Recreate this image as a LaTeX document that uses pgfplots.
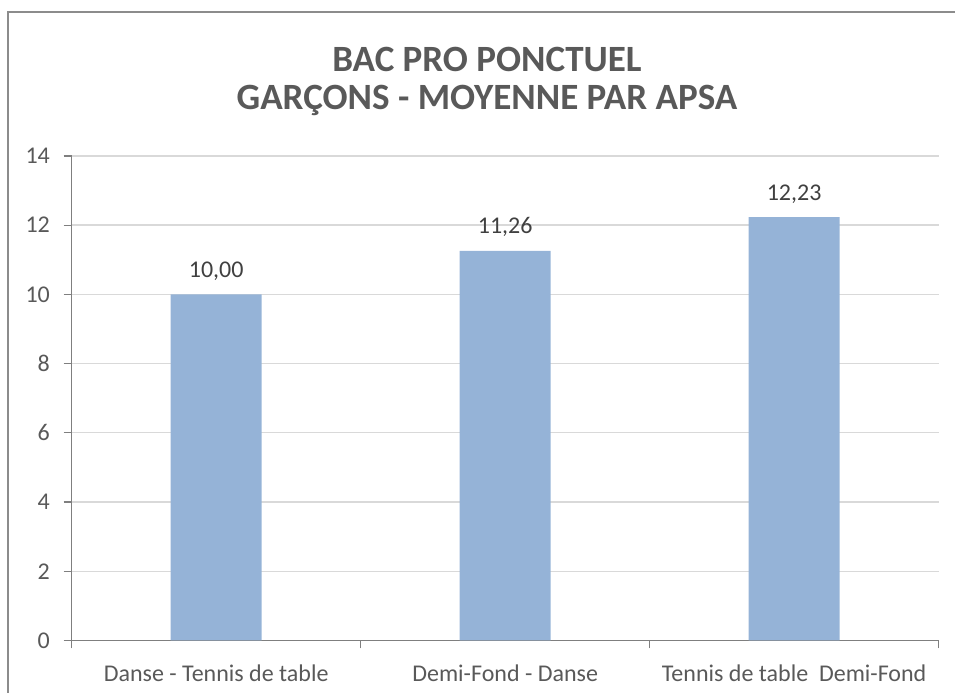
\documentclass[border=0pt]{standalone}
\usepackage{pgfplots}
\pgfplotsset{compat=1.18}
\usepackage{fontspec}
\setmainfont{Carlito}
\definecolor{barblue}{HTML}{95B3D7}
\definecolor{txt}{HTML}{595959}
\definecolor{lbl}{HTML}{404040}
\definecolor{gridc}{HTML}{D9D9D9}
\definecolor{axisc}{HTML}{7F7F7F}
\definecolor{frame}{HTML}{8C8C8C}
\begin{document}
\begin{tikzpicture}[x=0.375pt,y=0.375pt]
\path[use as bounding box] (0,0) rectangle (955,693);
\draw[frame, line width=0.5pt] (8,0) -- (8,681) -- (955,681);
\node[anchor=base, text=txt, font=\fontsize{13.9}{16}\selectfont\bfseries] at (487,621) {BAC PRO PONCTUEL};
\node[anchor=base, text=txt, font=\fontsize{13.9}{16}\selectfont\bfseries] at (487,583) {GARÇONS - MOYENNE PAR APSA};
\begin{axis}[
  at={(26.89pt,19.69pt)}, anchor=south west,
  scale only axis, width=325.1pt, height=181.7pt,
  xmin=-0.5, xmax=2.5, ymin=0, ymax=14,
  axis x line=bottom, axis y line=left,
  axis line style={-},
  x axis line style={draw=axisc, line width=0.45pt},
  y axis line style={draw=axisc, line width=0.45pt},
  ytick={0,2,...,14},
  xtick={-0.5,0.5,1.5,2.5}, xticklabels={},
  extra x ticks={0,1,2},
  extra x tick labels={Danse - Tennis de table, Demi-Fond - Danse, Tennis de table\ \ Demi-Fond},
  extra x tick style={major tick length=0pt, grid=none},
  tick align=outside, major tick length=3pt,
  tick style={draw=axisc, line width=0.45pt},
  ymajorgrids, grid style={draw=gridc, line width=0.5pt},
  ticklabel style={font=\fontsize{9}{11}\selectfont, text=txt},
  yticklabel style={inner sep=0pt, xshift=-5pt},
  xticklabel style={anchor=base, inner sep=0pt, yshift=-15.5pt},
  /pgf/number format/assume math mode=true,
  clip=false,
]
\addplot[ybar, fill=barblue, draw=none, bar width=0.315, bar shift=0pt,
  point meta=explicit symbolic,
  nodes near coords,
  nodes near coords style={anchor=base, inner sep=0pt, yshift=6.4pt, text=lbl, font=\fontsize{9}{11}\selectfont}]
  coordinates {(0,10.00) [10,00] (1,11.26) [11,26] (2,12.23) [12,23]};
\end{axis}
\end{tikzpicture}
\end{document}
